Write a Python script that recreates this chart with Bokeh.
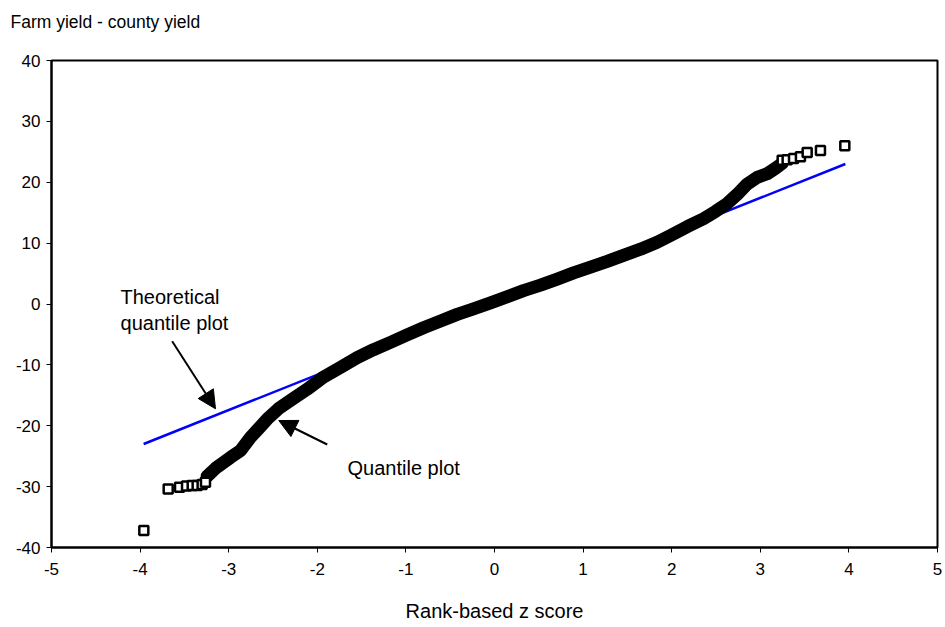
from bokeh.plotting import figure
from bokeh.models import Range1d, FixedTicker, Arrow, NormalHead, Label, Title
from bokeh.embed import file_html
from bokeh.resources import INLINE

# Rank-based z scores and farm-minus-county yield deviations
# dense central run of the quantile plot
band_z = [-3.243, -3.149, -2.980, -2.867, -2.754, -2.664, -2.565, -2.438, -2.302,
          -2.114, -1.930, -1.738, -1.550, -1.366, -1.174, -0.993, -0.801, -0.609,
          -0.421, -0.237, -0.045, 0.147, 0.327, 0.519, 0.708, 0.892, 1.084, 1.272,
          1.456, 1.648, 1.836, 1.986, 2.175, 2.359, 2.494, 2.626, 2.739, 2.852,
          2.965, 3.078, 3.172, 3.247]
band_y = [-28.3, -27.0, -25.2, -24.1, -21.9, -20.5, -18.9, -17.2, -15.85,
          -14.0, -12.0, -10.4, -8.8, -7.5, -6.3, -5.1, -3.9, -2.8,
          -1.7, -0.8, 0.2, 1.2, 2.2, 3.1, 4.1, 5.1, 6.05, 7.0,
          8.0, 9.0, 10.15, 11.25, 12.7, 14.0, 15.2, 16.5, 18.0, 19.7,
          20.8, 21.4, 22.3, 23.1]

# isolated observations in both tails
tail_z = [-3.958, -3.683, -3.555, -3.476, -3.412, -3.356, -3.300, -3.262,
          3.247, 3.303, 3.375, 3.453, 3.529, 3.679, 3.954]
tail_y = [-37.2, -30.4, -30.1, -29.9, -29.8, -29.8, -29.65, -29.3,
          23.6, 23.7, 23.9, 24.2, 24.9, 25.2, 26.0]

# theoretical quantile line
theory_z = [-3.96, 3.96]
theory_y = [-23.0, 23.0]

x_ticks = [-5, -4, -3, -2, -1, 0, 1, 2, 3, 4, 5]
y_ticks = [-40, -30, -20, -10, 0, 10, 20, 30, 40]

FONT = "Liberation Sans"

p = figure(width=945, height=627, output_backend="svg", toolbar_location=None,
           x_range=Range1d(-5, 5), y_range=Range1d(-40, 40),
           min_border_left=51, min_border_right=8, min_border_top=60, min_border_bottom=80)
p.grid.visible = False
p.outline_line_color = "black"
p.outline_line_width = 2
p.background_fill_color = "white"
p.border_fill_color = "white"

# blank gap between the frame and the caption above it
p.add_layout(Title(text=" ", text_font_size="1px", standoff=14), "above")

# caption of the vertical axis, top left
p.title.text = "Farm yield - county yield"
p.title.align = "left"
p.title.vertical_align = "top"
p.title.offset = -41
p.title.standoff = 20
p.title.text_font = FONT
p.title.text_font_size = "17.5px"
p.title.text_font_style = "normal"
p.title.text_color = "black"

for ax in (p.xaxis, p.yaxis):
    ax.axis_line_width = 2
    ax.axis_line_color = "black"
    ax.major_tick_in = 0
    ax.major_tick_out = 5
    ax.major_tick_line_width = 1
    ax.minor_tick_line_color = None
    ax.major_label_text_font = FONT
    ax.major_label_text_font_size = "17px"
    ax.major_label_text_color = "black"

p.xaxis.ticker = FixedTicker(ticks=x_ticks)
p.yaxis.ticker = FixedTicker(ticks=y_ticks)
p.xaxis.major_label_overrides = {t: str(t) for t in x_ticks}
p.yaxis.major_label_overrides = {t: str(t) for t in y_ticks}
p.xaxis.major_label_standoff = 10
p.yaxis.major_label_standoff = 6
p.xaxis.axis_label = "Rank-based z score"
p.xaxis.axis_label_text_font = FONT
p.xaxis.axis_label_text_font_size = "20px"
p.xaxis.axis_label_text_font_style = "normal"
p.xaxis.axis_label_text_color = "black"
p.xaxis.axis_label_standoff = 22

# theoretical line below, observed quantiles on top
p.line(theory_z, theory_y, line_color="#0000FF", line_width=2.5)
p.line(band_z, band_y, line_color="black", line_width=13, line_join="round", line_cap="round")
p.scatter(tail_z, tail_y, marker="square", size=9, line_color="black", line_width=2.5,
          fill_color="white")

# annotations with arrows
for txt, lx, ly in [("Theoretical", -4.221, 1.07), ("quantile plot", -4.221, -3.04),
                    ("Quantile plot", -1.659, -26.86)]:
    p.add_layout(Label(x=lx, y=ly, text=txt, text_font=FONT, text_font_size="20px",
                       text_baseline="alphabetic", text_color="black"))

p.add_layout(Arrow(x_start=-3.638, y_start=-6.11, x_end=-3.149, y_end=-17.22,
                   line_width=2, line_color="black",
                   end=NormalHead(size=18, fill_color="black", line_color="black")))
p.add_layout(Arrow(x_start=-1.888, y_start=-23.08, x_end=-2.435, y_end=-19.14,
                   line_width=2, line_color="black",
                   end=NormalHead(size=18, fill_color="black", line_color="black")))

open("out.html", "w").write(file_html(p, INLINE))
